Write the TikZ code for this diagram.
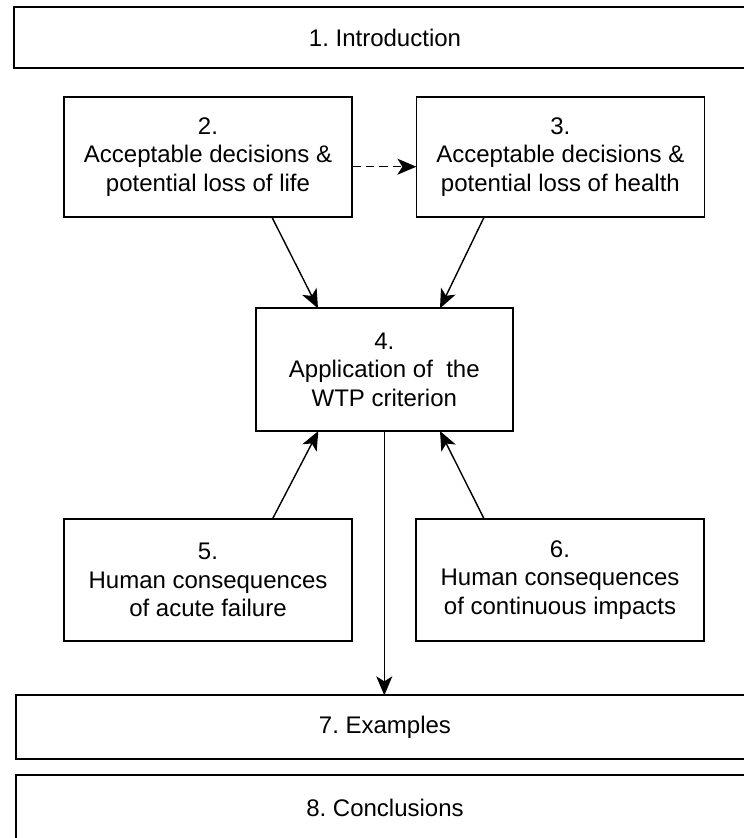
\documentclass[tikz,border=0pt]{standalone}
\usepackage{fontspec}
\setmainfont{Liberation Sans}
\usetikzlibrary{arrows.meta,calc}
\frenchspacing
\begin{document}
\begin{tikzpicture}[x=1pt,y=-1pt,
  box/.style={draw=black, line width=1.8pt, fill=white, inner sep=0pt, outer sep=0pt,
    align=center, font=\fontsize{24}{28.3}\selectfont\frenchspacing},
  conn/.style={line width=1.4pt, -{Stealth[length=19pt,width=16pt,inset=5pt]}},
  dconn/.style={conn, dash pattern=on 8.5pt off 5pt}]
\path[use as bounding box, fill=white] (0,0) rectangle (744,838);
\clip (0,0) rectangle (744,838);
\node[box, minimum width=742pt, minimum height=61pt] (b1) at (385,37.8) {1. Introduction};
\node[box, minimum width=288pt, minimum height=120.6pt] (b2) at (208,157) {2.\\Acceptable decisions \&\\potential loss of life};
\node[box, minimum width=288pt, minimum height=120.6pt] (b3) at (560.4,157) {3.\\Acceptable decisions \&\\potential loss of health};
\node[box, minimum width=256.7pt, minimum height=122.7pt] (b4) at (384.3,369.7) {4.\\Application of~ the\\WTP criterion};
\node[box, minimum width=288pt, minimum height=121.4pt] (b5) at (208,580) {5.\\Human consequences\\of acute failure};
\node[box, minimum width=288pt, minimum height=121.4pt] (b6) at (560,580) {6.\\Human consequences\\of continuous impacts};
\node[box, minimum width=738pt, minimum height=63.7pt] (b7) at (385,727.2) {7. Examples};
\node[box, minimum width=738pt, minimum height=65pt] (b8) at (385,807.5) {8. Conclusions};
\draw[dconn] ($(b2.east)+(0,9.7)$) -- ($(b3.west)+(0,9.7)$);
\draw[conn] ($(b2.south)+(64,0)$) -- ($(b4.north)+(-66.3,0)$);
\draw[conn] ($(b3.south)+(-76.4,0)$) -- ($(b4.north)+(55.7,0)$);
\draw[conn] ($(b5.north)+(64.3,0)$) -- ($(b4.south)+(-66,0)$);
\draw[conn] ($(b6.north)+(-75.7,0)$) -- ($(b4.south)+(55.7,0)$);
\draw[conn] (b4.south) -- (b4.south |- b7.north);
\end{tikzpicture}
\end{document}
